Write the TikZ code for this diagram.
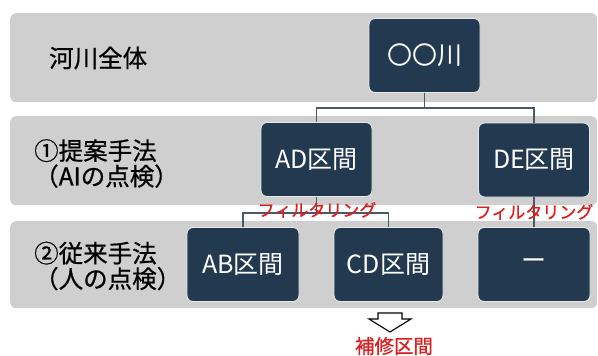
\documentclass[tikz,border=0pt]{standalone}
\usepackage{fontspec}
\setmainfont{Noto Sans CJK JP}
\newfontfamily\heavyjp{Noto Sans CJK JP}[FakeBold=0.7]
\definecolor{bandgray}{HTML}{CFCFCF}
\definecolor{boxblue}{HTML}{22394F}
\definecolor{boxedge}{HTML}{E6E9EC}
\definecolor{connline}{HTML}{4A5866}
\definecolor{labred}{HTML}{DC1E1E}
\tikzset{
  band/.style={fill=bandgray, rounded corners=6pt, minimum width=587pt, minimum height=89pt, inner sep=0pt, anchor=north west},
  blockbox/.style={fill=boxblue, draw=boxedge, line width=0.9pt, rounded corners=6pt, minimum width=111pt, minimum height=74pt, inner sep=0pt, text=white, font=\fontsize{25}{28}\selectfont},
  rowlabel/.style={anchor=west, align=left, inner sep=0pt, font=\heavyjp\fontsize{24.5}{25.5}\selectfont},
  conn/.style={draw=connline, line width=1.2pt},
  filt/.style={text=labred, inner sep=0pt, font=\heavyjp\fontsize{17}{18}\selectfont},
}
\begin{document}
\begin{tikzpicture}[x=1pt,y=-1pt]
\useasboundingbox (0,0) rectangle (598,356);
% bands
\node[band] (b1) at (10,13) {};
\node[band] (b2) at (10,116) {};
\node[band, minimum height=87pt] (b3) at (10,221) {};
% row labels
\node[rowlabel] (l1) at (49,58) {河川全体};
\node[rowlabel] (l2) at (34,163.5) {①提案手法\\（AIの点検）};
\node[rowlabel] (l3) at (34,266) {②従来手法\\（人の点検）};
% boxes
\node[blockbox] (R) at (424.5,55.5) {〇〇川};
\node[blockbox] (AD) at (316.5,159.5) {AD区間};
\node[blockbox] (DE) at (534,160) {DE区間};
\node[blockbox, minimum width=112pt] (AB) at (243,264.5) {AB区間};
\node[blockbox, minimum width=109pt] (CD) at (388.5,264.5) {CD区間};
\node[blockbox, minimum width=112pt] (NA) at (534,264.5) {ー};
% connectors
\path (R.south) ++(0,15) coordinate (j1);
\draw[conn] (R.south) -- (j1) -| (AD.north);
\draw[conn] (j1) -| (DE.north);
\path (AD.south) ++(0,16) coordinate (j2);
\draw[conn] (AD.south) -- (j2) -| (AB.north);
\draw[conn] (j2) -| (CD.north);
\draw[conn] (DE.south) -- (NA.north);
% filter labels
\node[filt] (f1) at (317,210) {フィルタリング};
\node[filt] (f2) at (534,212) {フィルタリング};
% hollow arrow
\coordinate (at) at (390,313);
\draw[fill=white, draw=black, line width=1.1pt, line join=miter]
  (at) ++(-12,0) -- ++(24,0) -- ++(0,6) -- ++(9,0) -- (390,332) -- (369,319) -- ++(9,0) -- cycle;
\node[text=labred, inner sep=0pt, font=\heavyjp\fontsize{19.5}{20}\selectfont] (rep) at (394,346) {補修区間};
\end{tikzpicture}
\end{document}
